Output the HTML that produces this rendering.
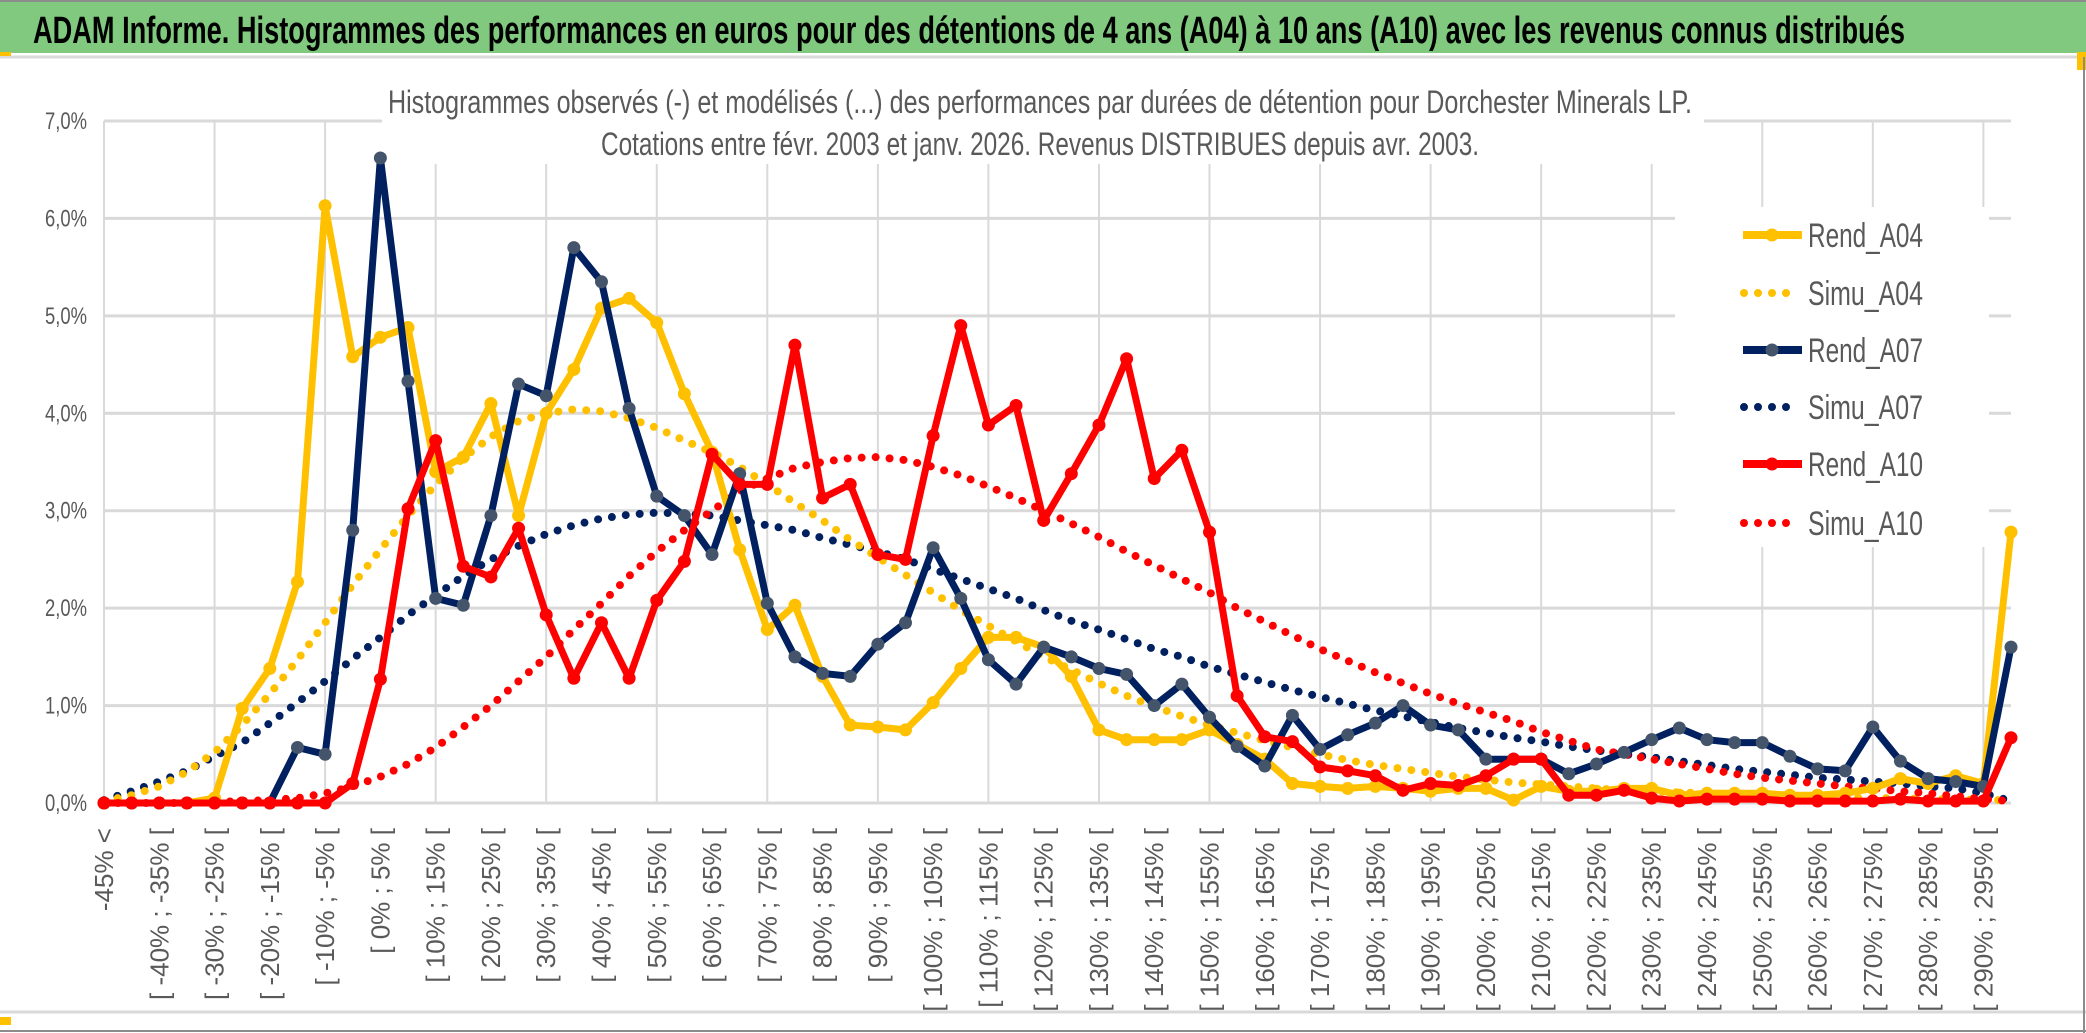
<!DOCTYPE html>
<html><head><meta charset="utf-8"><style>
html,body{margin:0;padding:0;background:#fff;}
svg{display:block;}
</style></head><body>
<svg id="chart" width="2086" height="1033" viewBox="0 0 2086 1033" xmlns="http://www.w3.org/2000/svg">
<rect x="0" y="0" width="2086" height="1033" fill="#fff"/>
<rect x="0" y="2" width="2086" height="51" fill="#80C97F"/>
<line x1="0" y1="1" x2="2086" y2="1" stroke="#8c8c8c" stroke-width="2"/>
<line x1="0" y1="57" x2="2086" y2="57" stroke="#d9d9d9" stroke-width="3"/>
<rect x="0" y="52" width="11" height="4" fill="#FFC000"/>
<rect x="2077" y="52" width="9" height="18" fill="#FFC000"/>
<line x1="0" y1="1012" x2="2086" y2="1012" stroke="#d9d9d9" stroke-width="3"/>
<line x1="0" y1="1031" x2="2086" y2="1031" stroke="#8c8c8c" stroke-width="2"/>
<rect x="0" y="1017" width="11" height="8" fill="#FFC000"/>
<line x1="2084" y1="57" x2="2084" y2="1033" stroke="#8c8c8c" stroke-width="2"/>
<text x="33" y="43" font-family="'Liberation Sans Narrow','Liberation Sans',sans-serif" font-weight="bold" font-size="38" fill="#000" textLength="1872" lengthAdjust="spacingAndGlyphs">ADAM Informe. Histogrammes des performances en euros pour des détentions de 4 ans (A04) à 10 ans (A10) avec les revenus connus distribués</text>
<g id="grid"></g>
<g id="yaxis"></g>
<g id="xaxis"></g>
<rect x="382" y="82" width="1322" height="82" fill="#fff"/>
<text x="388" y="113" font-family="'Liberation Sans Narrow','Liberation Sans',sans-serif" font-size="32" fill="#595959" textLength="1304" lengthAdjust="spacingAndGlyphs">Histogrammes observés (-) et modélisés (...) des performances par durées de détention pour Dorchester Minerals LP.</text>
<text x="601" y="155" font-family="'Liberation Sans Narrow','Liberation Sans',sans-serif" font-size="32" fill="#595959" textLength="878" lengthAdjust="spacingAndGlyphs">Cotations entre févr. 2003 et janv. 2026.  Revenus DISTRIBUES depuis avr. 2003.</text>
<g id="series"></g>
<rect x="1675" y="207" width="314" height="340" fill="#fff"/>
<g id="legend"></g>
</svg>
<script>
const categories = ["-45% <"];
for (let k = 1; k < 70; k++) { categories.push("[ " + (-50 + 5 * k) + "% ; " + (-45 + 5 * k) + "% ["); }
const yTicks = [0, 1, 2, 3, 4, 5, 6, 7];
const yTickLabels = ["0,0%", "1,0%", "2,0%", "3,0%", "4,0%", "5,0%", "6,0%", "7,0%"];
const rendA04 = [0,0,0,0,0.05,0.97,1.38,2.27,6.13,4.58,4.78,4.88,3.4,3.55,4.1,2.95,4.0,4.45,5.08,5.18,4.93,4.2,3.6,2.6,1.78,2.03,1.3,0.8,0.78,0.75,1.03,1.38,1.7,1.7,1.6,1.3,0.75,0.65,0.65,0.65,0.75,0.6,0.45,0.2,0.17,0.15,0.17,0.15,0.12,0.15,0.15,0.03,0.17,0.12,0.12,0.15,0.15,0.08,0.1,0.1,0.1,0.08,0.08,0.1,0.15,0.25,0.2,0.28,0.2,2.78];
const simuA04 = [0.02,0.08,0.17,0.32,0.52,0.8,1.12,1.47,1.85,2.24,2.6,2.95,3.27,3.54,3.76,3.92,4.0,4.04,4.02,3.95,3.85,3.72,3.6,3.45,3.27,3.08,2.9,2.7,2.52,2.34,2.16,1.98,1.82,1.66,1.5,1.37,1.23,1.1,0.99,0.89,0.8,0.72,0.64,0.57,0.5,0.44,0.39,0.35,0.31,0.27,0.24,0.21,0.19,0.17,0.15,0.13,0.12,0.11,0.1,0.09,0.08,0.07,0.06,0.06,0.05,0.05,0.04,0.04,0.03,0.03];
const rendA07 = [0,0,0,0,0,0,0,0.57,0.5,2.8,6.62,4.33,2.1,2.03,2.95,4.3,4.18,5.7,5.35,4.05,3.15,2.95,2.55,3.38,2.05,1.5,1.33,1.3,1.63,1.85,2.62,2.1,1.47,1.22,1.6,1.5,1.38,1.32,1.0,1.22,0.88,0.58,0.38,0.9,0.55,0.7,0.82,1.0,0.8,0.75,0.45,0.45,0.45,0.3,0.4,0.52,0.65,0.77,0.65,0.62,0.62,0.48,0.35,0.33,0.78,0.43,0.25,0.22,0.17,1.6];
const simuA07 = [0.03,0.12,0.22,0.33,0.48,0.62,0.82,1.03,1.25,1.48,1.7,1.93,2.13,2.33,2.5,2.64,2.76,2.85,2.92,2.96,2.98,2.97,2.95,2.9,2.85,2.8,2.72,2.65,2.58,2.5,2.4,2.3,2.2,2.1,1.98,1.87,1.78,1.68,1.58,1.5,1.4,1.32,1.24,1.16,1.09,1.02,0.95,0.89,0.83,0.77,0.72,0.67,0.63,0.58,0.54,0.5,0.47,0.43,0.39,0.35,0.32,0.29,0.26,0.24,0.22,0.2,0.17,0.15,0.1,0.02];
const rendA10 = [0,0,0,0,0,0,0,0,0,0.2,1.27,3.02,3.72,2.43,2.32,2.82,1.93,1.28,1.85,1.28,2.08,2.48,3.58,3.27,3.27,4.7,3.13,3.27,2.55,2.5,3.77,4.9,3.88,4.08,2.9,3.38,3.88,4.56,3.33,3.62,2.78,1.1,0.68,0.63,0.37,0.33,0.28,0.13,0.2,0.18,0.28,0.45,0.45,0.08,0.08,0.13,0.05,0.02,0.04,0.04,0.04,0.02,0.02,0.02,0.02,0.04,0.02,0.02,0.02,0.67];
const simuA10 = [0,0,0,0,0.01,0.02,0.03,0.05,0.1,0.17,0.27,0.4,0.57,0.78,1.0,1.25,1.5,1.78,2.05,2.33,2.58,2.8,3.0,3.2,3.33,3.44,3.5,3.54,3.55,3.52,3.45,3.36,3.25,3.13,3.0,2.87,2.73,2.58,2.44,2.3,2.16,2.0,1.86,1.72,1.58,1.46,1.34,1.23,1.12,1.02,0.93,0.84,0.73,0.64,0.55,0.5,0.45,0.4,0.35,0.3,0.26,0.23,0.2,0.17,0.15,0.12,0.1,0.07,0.04,0.02];
const seriesNames = ["Rend_A04", "Simu_A04", "Rend_A07", "Simu_A07", "Rend_A10", "Simu_A10"];

const NS = "http://www.w3.org/2000/svg";
const X0 = 104, X1 = 2011, Y0 = 803, Y7 = 121;
function xs(k) { return X0 + k * (X1 - X0) / (categories.length - 1); }
function ys(v) { return Y0 - v * (Y0 - Y7) / 7; }
function mk(tag, attrs, parent) { const e = document.createElementNS(NS, tag); for (const a in attrs) e.setAttribute(a, attrs[a]); parent.appendChild(e); return e; }

const grid = document.getElementById('grid');
yTicks.forEach(function (t) {
  const l = mk('line', {x1: X0, x2: X1, y1: ys(t), y2: ys(t), stroke: '#d9d9d9', 'stroke-width': 3}, grid);
  
  
});
for (let k = 0; k < categories.length; k += 4) {
  const l = mk('line', {x1: xs(k), x2: xs(k), y1: Y7, y2: Y0, stroke: '#d9d9d9', 'stroke-width': 2}, grid);
  
  
}
const yaxis = document.getElementById('yaxis');
yTicks.forEach(function (t, i) {
  const tx = mk('text', {x: 87, y: ys(t) + 8, 'text-anchor': 'end', 'font-family': "'Liberation Sans Narrow','Liberation Sans',sans-serif", 'font-size': 24, fill: '#595959', textLength: 42, lengthAdjust: 'spacingAndGlyphs'}, yaxis);
  tx.textContent = yTickLabels[i];
  
  
});
const xaxis = document.getElementById('xaxis');
for (let k = 0; k < categories.length; k += 2) {
  const x = xs(k) + 9, y = 828;
  const tx = mk('text', {x: x, y: y, transform: 'rotate(-90 ' + x + ' ' + y + ')', 'text-anchor': 'end', 'font-family': "'Liberation Sans',sans-serif", 'font-size': 26, fill: '#595959'}, xaxis);
  tx.textContent = categories[k];
  
  
}

const seriesG = document.getElementById('series');
function pts(arr) { return arr.map(function (v, k) { return xs(k).toFixed(1) + ',' + ys(v).toFixed(1); }).join(' '); }
function drawSimu(arr, color, name) {
  const p = mk('polyline', {points: pts(arr), fill: 'none', stroke: color, 'stroke-width': 8, 'stroke-linecap': 'round', 'stroke-dasharray': '0 14'}, seriesG);
  
  
}
function drawRend(arr, color, mcolor, name) {
  const g = mk('g', {}, seriesG);
  
  
  mk('polyline', {points: pts(arr), fill: 'none', stroke: color, 'stroke-width': 7, 'stroke-linejoin': 'round'}, g);
  arr.forEach(function (v, k) {
    const c = mk('circle', {cx: xs(k), cy: ys(v), r: 6.5, fill: mcolor}, g);
    
    
  });
}
drawSimu(simuA07, '#002060', 'simu-a07-line');
drawSimu(simuA04, '#FFC000', 'simu-a04-line');
drawSimu(simuA10, '#FF0000', 'simu-a10-line');
drawRend(rendA04, '#FFC000', '#FFC000', 'rend-a04-line');
drawRend(rendA07, '#002060', '#44546A', 'rend-a07-line');
drawRend(rendA10, '#FF0000', '#FF0000', 'rend-a10-line');

const legend = document.getElementById('legend');
const legColors = ['#FFC000', '#FFC000', '#002060', '#002060', '#FF0000', '#FF0000'];
const legY = [235, 293, 350, 407, 464, 523];
seriesNames.forEach(function (n, i) {
  const g = mk('g', {}, legend);
  
  
  const y = legY[i];
  if (i % 2 === 0) {
    mk('line', {x1: 1743, x2: 1802, y1: y, y2: y, stroke: legColors[i], 'stroke-width': 8}, g);
    mk('circle', {cx: 1772, cy: y, r: 6.5, fill: i === 2 ? '#44546A' : legColors[i]}, g);
  } else {
    mk('line', {x1: 1744, x2: 1800, y1: y, y2: y, stroke: legColors[i], 'stroke-width': 8, 'stroke-linecap': 'round', 'stroke-dasharray': '0 14'}, g);
  }
  const t = mk('text', {x: 1808, y: y + 12, 'font-family': "'Liberation Sans Narrow','Liberation Sans',sans-serif", 'font-size': 34, fill: '#595959', textLength: 115, lengthAdjust: 'spacingAndGlyphs'}, g);
  t.textContent = n;
});
</script>
</body></html>
